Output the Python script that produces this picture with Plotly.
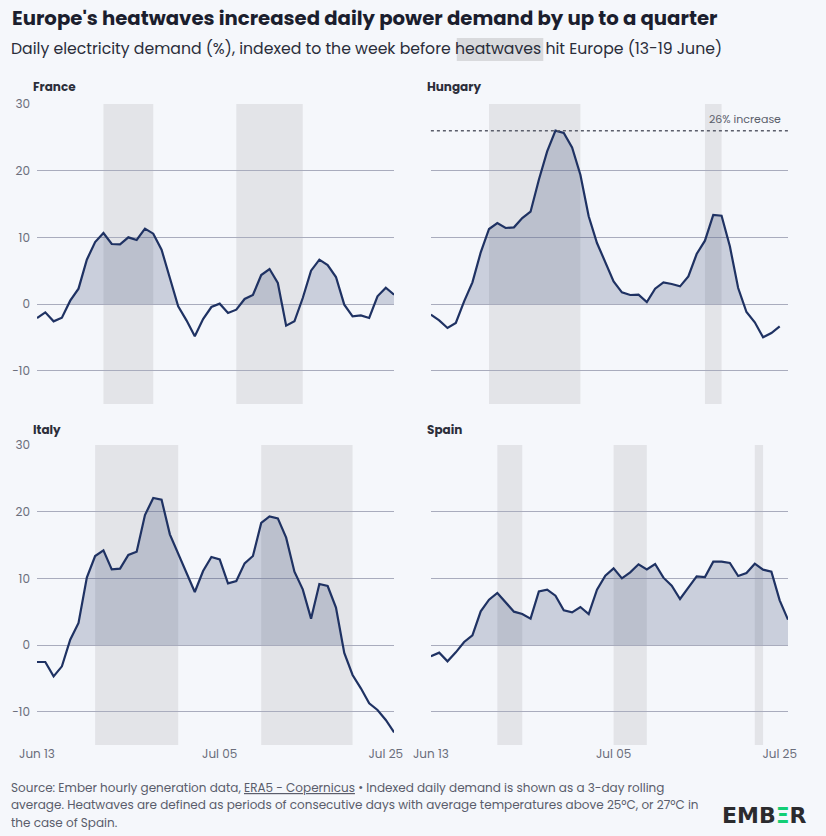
import numpy as np
import pandas as pd
import plotly.graph_objects as go

# indexed daily demand (%), 3-day rolling average, from 13 June
dates = pd.date_range("2025-06-13", "2025-07-26", freq="D")

france = [-2.1, -1.25, -2.6, -2.05, 0.5, 2.3, 6.65, 9.3, 10.65, 9.0, 8.95, 10.0, 9.6, 11.3,
          10.55, 8.15, 3.9, -0.35, -2.45, -4.85, -2.25, -0.45, 0.05, -1.35, -0.85, 0.75, 1.35,
          4.35, 5.25, 3.15, -3.25, -2.6, 0.9, 5.0, 6.65, 5.85, 4.05, -0.1, -1.85, -1.7, -2.1,
          1.15, 2.45, 1.4]
hungary = [-1.6, -2.45, -3.6, -2.85, 0.4, 3.25, 7.75, 11.25, 12.15, 11.4, 11.5, 12.9, 13.85,
           18.65, 22.9, 26.0, 25.65, 23.5, 19.4, 13.15, 9.15, 6.4, 3.4, 1.75, 1.35, 1.4, 0.3,
           2.3, 3.25, 3.0, 2.65, 4.15, 7.5, 9.5, 13.35, 13.25, 8.65, 2.4, -1.2, -2.75, -5.0,
           -4.35, -3.35]
italy = [-2.55, -2.55, -4.7, -3.2, 0.8, 3.3, 10.1, 13.35, 14.2, 11.35, 11.45, 13.5, 14.0, 19.5,
         22.05, 21.8, 16.6, 13.8, 10.85, 7.95, 11.1, 13.2, 12.85, 9.25, 9.6, 12.25, 13.35, 18.3,
         19.3, 19.0, 16.1, 11.0, 8.35, 3.95, 9.15, 8.85, 5.6, -1.2, -4.5, -6.5, -8.75, -9.75,
         -11.25, -13.1]
spain = [-1.7, -1.15, -2.45, -1.1, 0.45, 1.45, 5.05, 6.8, 7.8, 6.4, 5.0, 4.65, 3.95, 8.05, 8.3,
         7.4, 5.2, 4.9, 5.7, 4.65, 8.3, 10.4, 11.5, 10.0, 10.9, 12.1, 11.35, 12.15, 10.1, 8.9,
         6.9, 8.6, 10.3, 10.2, 12.5, 12.5, 12.3, 10.35, 10.8, 12.2, 11.3, 11.0, 6.7, 3.8]

# heatwave periods (start, end)
france_heat = [("2025-06-21", "2025-06-27"), ("2025-07-07", "2025-07-15")]
hungary_heat = [("2025-06-20", "2025-07-01"), ("2025-07-16", "2025-07-18")]
italy_heat = [("2025-06-20", "2025-06-30"), ("2025-07-10", "2025-07-21")]
spain_heat = [("2025-06-21", "2025-06-24"), ("2025-07-05", "2025-07-09"), ("2025-07-22", "2025-07-23")]

tick_dates = ["2025-06-13", "2025-07-05", "2025-07-25"]
tick_text = ["Jun 13", "Jul 05", "Jul 25"]

LINE = "#1f3263"
FILL = "rgba(31,50,99,0.2)"
BAND = "#e3e4e8"
GRID = "#a9acbd"
BG = "#f5f7fb"
FONT = "Poppins, 'Open Sans', sans-serif"

FW, FH = 826, 836
# plot area in pixels: x 33..788, y 104..745
ML, MR, MT, MB = 33, FW - 788, 104, FH - 745
W, H = FW - ML - MR, FH - MT - MB


def px(x):
    return (x - ML) / W


def py(y):
    return (FH - MB - y) / H


def positive_area(x, y):
    # fill only above zero, cutting the polygon where the line crosses zero
    t = x.asi8
    xs, ys = [], []
    for i in range(len(y)):
        if i > 0 and (y[i - 1] < 0) != (y[i] < 0):
            f = y[i - 1] / (y[i - 1] - y[i])
            xs.append(int(t[i - 1] + f * (t[i] - t[i - 1])))
            ys.append(0)
        xs.append(int(t[i]))
        ys.append(max(y[i], 0))
    return pd.to_datetime(xs), ys


panels = [
    ("France", france, france_heat, "x", "y"),
    ("Hungary", hungary, hungary_heat, "x2", "y2"),
    ("Italy", italy, italy_heat, "x3", "y3"),
    ("Spain", spain, spain_heat, "x4", "y4"),
]

fig = go.Figure()
shapes = []
annotations = []

for name, vals, heat, xa, ya in panels:
    x = dates[:len(vals)]
    fx, fy = positive_area(x, vals)
    fig.add_trace(go.Scatter(x=fx, y=fy, mode="none", fill="tozeroy", fillcolor=FILL,
                             xaxis=xa, yaxis=ya, hoverinfo="skip", showlegend=False))
    fig.add_trace(go.Scatter(x=x, y=vals, mode="lines", line=dict(color=LINE, width=2.2),
                             xaxis=xa, yaxis=ya, name=name, showlegend=False))
    for s, e in heat:
        shapes.append(dict(type="rect", xref=xa, yref=ya + " domain", x0=s, x1=e, y0=0, y1=1,
                           fillcolor=BAND, line=dict(width=0), layer="below"))

# Hungary peak marker
shapes.append(dict(type="line", xref="x2 domain", yref="y2", x0=0, x1=1, y0=26, y1=26,
                   line=dict(color="#5b5e6b", width=1.5, dash="dot")))
annotations.append(dict(xref="x2 domain", yref="y2", x=0.985, y=26, text="26% increase",
                        showarrow=False, xanchor="right", yanchor="bottom", yshift=2,
                        font=dict(size=11, color="#5b5e6b")))

left_dom = [0, px(392)]
right_dom = [px(429), 1]
top_dom = [py(404), 1]
bot_dom = [0, py(445)]

xcommon = dict(type="date", range=[dates[0], dates[-1]], showgrid=False, zeroline=False,
               showline=False, ticks="", tickvals=tick_dates, ticktext=tick_text,
               tickfont=dict(size=12, color="#6b6e7c"))
ycommon = dict(range=[-15, 30], tickvals=[-10, 0, 10, 20, 30], gridcolor=GRID, gridwidth=1,
               zeroline=False, showline=False, ticks="", ticklabelstandoff=6,
               tickfont=dict(size=12, color="#6b6e7c"))

fig.update_layout(
    xaxis=dict(xcommon, domain=left_dom, anchor="y", showticklabels=False),
    xaxis2=dict(xcommon, domain=right_dom, anchor="y2", showticklabels=False),
    xaxis3=dict(xcommon, domain=left_dom, anchor="y3"),
    xaxis4=dict(xcommon, domain=right_dom, anchor="y4"),
    yaxis=dict(ycommon, domain=top_dom, anchor="x"),
    yaxis2=dict(ycommon, domain=top_dom, anchor="x2", showticklabels=False),
    yaxis3=dict(ycommon, domain=bot_dom, anchor="x3"),
    yaxis4=dict(ycommon, domain=bot_dom, anchor="x4", showticklabels=False),
)

# panel titles
for name, xp, yp in [("France", 27, 87), ("Hungary", 423, 87), ("Italy", 27, 429), ("Spain", 423, 429)]:
    annotations.append(dict(xref="paper", yref="paper", x=px(xp), y=py(yp), text="<b>" + name + "</b>",
                            showarrow=False, xanchor="left", yanchor="middle",
                            font=dict(size=12, color="#2c2e3a")))

# title block
annotations.append(dict(xref="paper", yref="paper", x=px(5.5), y=py(18),
                        text="<b>Europe's heatwaves increased daily power demand by up to a quarter</b>",
                        showarrow=False, xanchor="left", yanchor="middle",
                        font=dict(size=19.7, color="#1b1e2e")))
annotations.append(dict(xref="paper", yref="paper", x=px(5), y=py(49),
                        text="Daily electricity demand (%), indexed to the week before heatwaves hit Europe (13-19 June)",
                        showarrow=False, xanchor="left", yanchor="middle",
                        font=dict(size=15.7, color="#2a2d3a")))
shapes.append(dict(type="rect", xref="paper", yref="paper", x0=px(455), x1=px(542), y0=py(61), y1=py(38),
                   fillcolor="#d9dadd", line=dict(width=0), layer="below"))

# footnote
notes = [
    "Source: Ember hourly generation data, <u>ERA5 - Copernicus</u> • Indexed daily demand is shown as a 3-day rolling",
    "average. Heatwaves are defined as periods of consecutive days with average temperatures above 25ºC, or 27ºC in",
    "the case of Spain.",
]
for i, line in enumerate(notes):
    annotations.append(dict(xref="paper", yref="paper", x=px(4.5), y=py(787 + 17.5 * i), text=line,
                            showarrow=False, xanchor="left", yanchor="middle",
                            font=dict(size=12, color="#5a5d6b")))

# logo
annotations.append(dict(xref="paper", yref="paper", x=px(764), y=py(815),
                        text="<b>EMB<span style='color:#13ce74'>Ξ</span>R</b>",
                        showarrow=False, xanchor="center", yanchor="middle",
                        font=dict(size=22, color="#2b2b2e", family="DejaVu Sans")))

fig.update_layout(
    width=FW, height=FH,
    margin=dict(l=ML, r=MR, t=MT, b=MB),
    paper_bgcolor=BG, plot_bgcolor=BG,
    font=dict(family=FONT),
    shapes=shapes, annotations=annotations,
    hovermode=False,
)

# drop the page's default body margin so the figure fills the window
fig.write_html("out.html", config={"displayModeBar": False},
               post_script="document.body.style.margin = '0';")
